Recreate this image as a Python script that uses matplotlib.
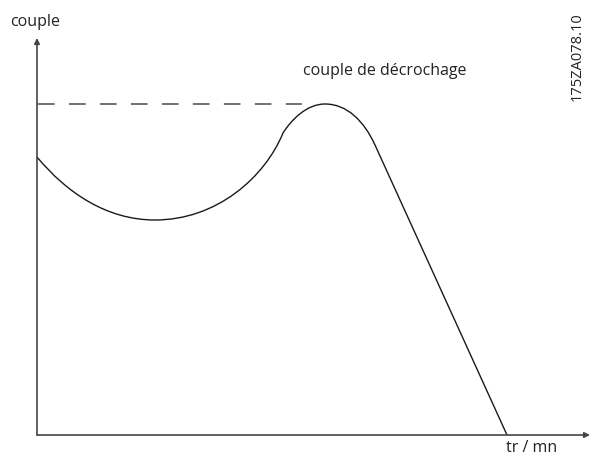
import matplotlib
matplotlib.use("Agg")
import matplotlib.pyplot as plt
from matplotlib.path import Path
from matplotlib.patches import PathPatch

plt.rcParams['font.family'] = ['Open Sans', 'DejaVu Sans']
plt.rcParams['lines.scale_dashes'] = False

# Torque curve (x: speed, y: torque; origin at the axes corner).
# Bezier anchors + control points, then a straight fall to zero torque.
curve_x = [0, 30, 70, 118, 180, 228, 246, 255, 270, 288, 310, 327, 338, 470]
curve_y = [278, 242, 215, 215, 215, 258, 302, 316, 331, 331, 331, 314, 290, 0]
curve_codes = [Path.MOVETO] + [Path.CURVE4] * 12 + [Path.LINETO]

stall_speed = 265
stall_torque = 331

fig = plt.figure(figsize=(5.92, 4.55), dpi=100)
W, H = 592, 455
x0, y0 = 37, 435
ax = fig.add_axes([x0 / W, (H - y0) / H, (590 - x0) / W, (y0 - 38) / H])
ax.set_xlim(0, 590 - x0)
ax.set_ylim(0, y0 - 38)
ax.axis('off')

# curve
path = Path(list(zip(curve_x, curve_y)), curve_codes)
ax.add_patch(PathPatch(path, facecolor='none', edgecolor='#1a1a1a', lw=1.0))

# stall torque dashed line
ax.plot([1, stall_speed], [stall_torque, stall_torque], color='#666666', lw=1.3,
        dashes=(12, 10.3))

# axes with arrows
axis_color = '#444444'
ax.annotate('', xy=(1, 0), xytext=(0, 0), xycoords='axes fraction',
            arrowprops=dict(arrowstyle='-|>', color=axis_color, lw=1.2,
                            mutation_scale=8, shrinkA=0, shrinkB=0))
ax.annotate('', xy=(0, 1), xytext=(0, 0), xycoords='axes fraction',
            arrowprops=dict(arrowstyle='-|>', color=axis_color, lw=1.2,
                            mutation_scale=8, shrinkA=0, shrinkB=0))

# texts
txt = '#222222'
fig.text(35 / W, 1 - 22 / H, 'couple', ha='center', va='center', fontsize=11.5, color=txt)
fig.text(385 / W, 1 - 71 / H, 'couple de décrochage', ha='center', va='center',
         fontsize=11.5, color=txt)
fig.text(532 / W, 1 - 448 / H, 'tr / mn', ha='center', va='center', fontsize=11.5, color=txt)
fig.text(577 / W, 1 - 57 / H, '175ZA078.10', ha='center', va='center', rotation=90,
         fontsize=10.5, color=txt)

fig.savefig('out.png', dpi=100)
